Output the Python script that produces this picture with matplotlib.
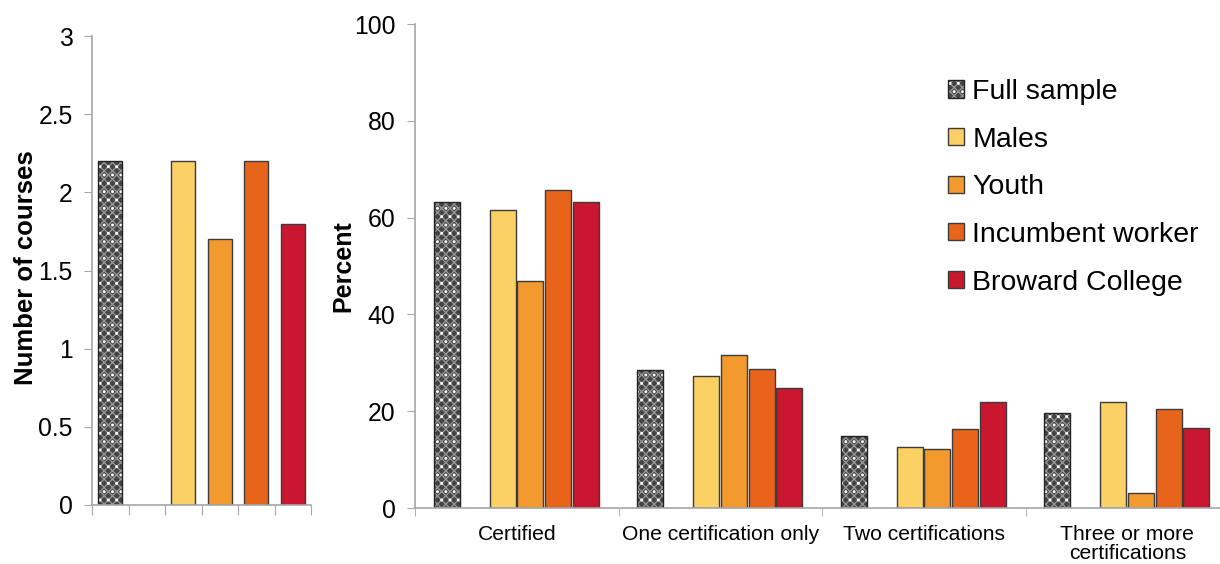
import numpy as np
import matplotlib
matplotlib.use("Agg")
import matplotlib.pyplot as plt
from matplotlib.patches import Patch
from matplotlib.legend_handler import HandlerTuple

plt.rcParams['font.family'] = ['Liberation Sans', 'DejaVu Sans']
plt.rcParams['hatch.linewidth'] = 0.9

groups = ['Full sample', 'Males', 'Youth', 'Incumbent worker', 'Broward College']
colors = ['#444444', '#fbd166', '#f29a2e', '#e8641b', '#c8172e']

# average number of courses per group
courses = [2.2, 2.2, 1.7, 2.2, 1.8]

categories = ['Certified', 'One certification only', 'Two certifications',
              'Three or more\ncertifications']
full_sample = [63.3, 28.6, 14.9, 19.7]
males = [61.6, 27.2, 12.6, 21.9]
youth = [46.8, 31.6, 12.2, 3.0]
incumbent = [65.8, 28.8, 16.4, 20.4]
broward = [63.3, 24.8, 21.9, 16.6]
percents = [full_sample, males, youth, incumbent, broward]

W, H = 1220, 564
fig = plt.figure(figsize=(W / 100, H / 100), dpi=100)
ax1 = fig.add_axes([92 / W, 1 - 505 / H, 219 / W, 469 / H])
ax2 = fig.add_axes([415 / W, 1 - 508 / H, 814 / W, 484 / H])

edge = '#3c3c3c'
axis_gray = '#a6a6a6'

# dark checker texture with white dots for the full sample
texture = [dict(facecolor=colors[0], edgecolor='#9a9a9a', hatch='xxxx', linewidth=0),
           dict(facecolor='none', edgecolor='white', hatch='..', linewidth=0),
           dict(facecolor='none', edgecolor='#222222', linewidth=1.0)]


def draw_bar(ax, x, h, width, i):
    if i == 0:
        for z, kw in enumerate(texture):
            ax.bar(x, h, width, zorder=2 + z * 0.1, **kw)
    else:
        ax.bar(x, h, width, color=colors[i], edgecolor=edge, linewidth=1.0,
               zorder=2)


# left panel: one bar per slot, second slot left empty
slots = [0, 2, 3, 4, 5]
for i, (s, v) in enumerate(zip(slots, courses)):
    draw_bar(ax1, s, v, 0.66, i)
ax1.set_xlim(-0.5, 5.5)
ax1.set_ylim(0, 3)
ax1.set_yticks(np.arange(0, 3.01, 0.5))
ax1.set_yticklabels(['0', '0.5', '1', '1.5', '2', '2.5', '3'])
ax1.set_xticks(np.arange(-0.5, 5.6, 1))
ax1.set_xticklabels([])

# right panel: grouped bars, slot 1 of each group left empty
pitch = 27.8 / 203.5
offset = -0.5 + 31.9 / 203.5
bar_w = 26 / 203.5
xc = np.arange(len(categories))
group_slots = [0, 2, 3, 4, 5]
for i, (s, vals) in enumerate(zip(group_slots, percents)):
    draw_bar(ax2, xc + offset + s * pitch, vals, bar_w, i)
ax2.set_xlim(-0.5, len(categories) - 0.5)
ax2.set_ylim(0, 100)
ax2.set_yticks(range(0, 101, 20))
ax2.set_xticks(xc)
ax2.set_xticklabels(categories, fontsize=15.2, linespacing=1.05)
ax2.set_xticks(np.arange(-0.5, len(categories), 1), minor=True)
ax2.tick_params(axis='x', which='major', length=0, pad=12)
ax2.tick_params(axis='x', which='minor', length=6, color=axis_gray)

for ax in (ax1, ax2):
    for side in ('top', 'right'):
        ax.spines[side].set_visible(False)
    for side in ('left', 'bottom'):
        ax.spines[side].set_color(axis_gray)
        ax.spines[side].set_linewidth(1.2)
    ax.tick_params(axis='y', labelsize=17.8, length=6, color=axis_gray, pad=8)
    ax.set_facecolor('none')
ax1.tick_params(axis='x', length=7, color=axis_gray)

fig.text(26 / W, 1 - 268 / H, 'Number of courses', rotation=90, ha='center',
         va='center', fontsize=18.5, fontweight='bold')
fig.text(343 / W, 1 - 266 / H, 'Percent', rotation=90, ha='center',
         va='center', fontsize=18, fontweight='bold')

handles = [tuple(Patch(**kw) for kw in texture)]
for i in range(1, len(groups)):
    handles.append(Patch(facecolor=colors[i], edgecolor=edge, linewidth=1.0))
leg = fig.legend(handles, groups, loc='upper left',
                 handler_map={tuple: HandlerTuple(ndivide=1, pad=0)},
                 bbox_to_anchor=(948 / W, 1 - 79 / H), frameon=False,
                 fontsize=20.5, handlelength=0.55, handleheight=0.55,
                 handletextpad=0.3, labelspacing=0.76, borderpad=0,
                 borderaxespad=0)

fig.savefig('out.png', dpi=100)
